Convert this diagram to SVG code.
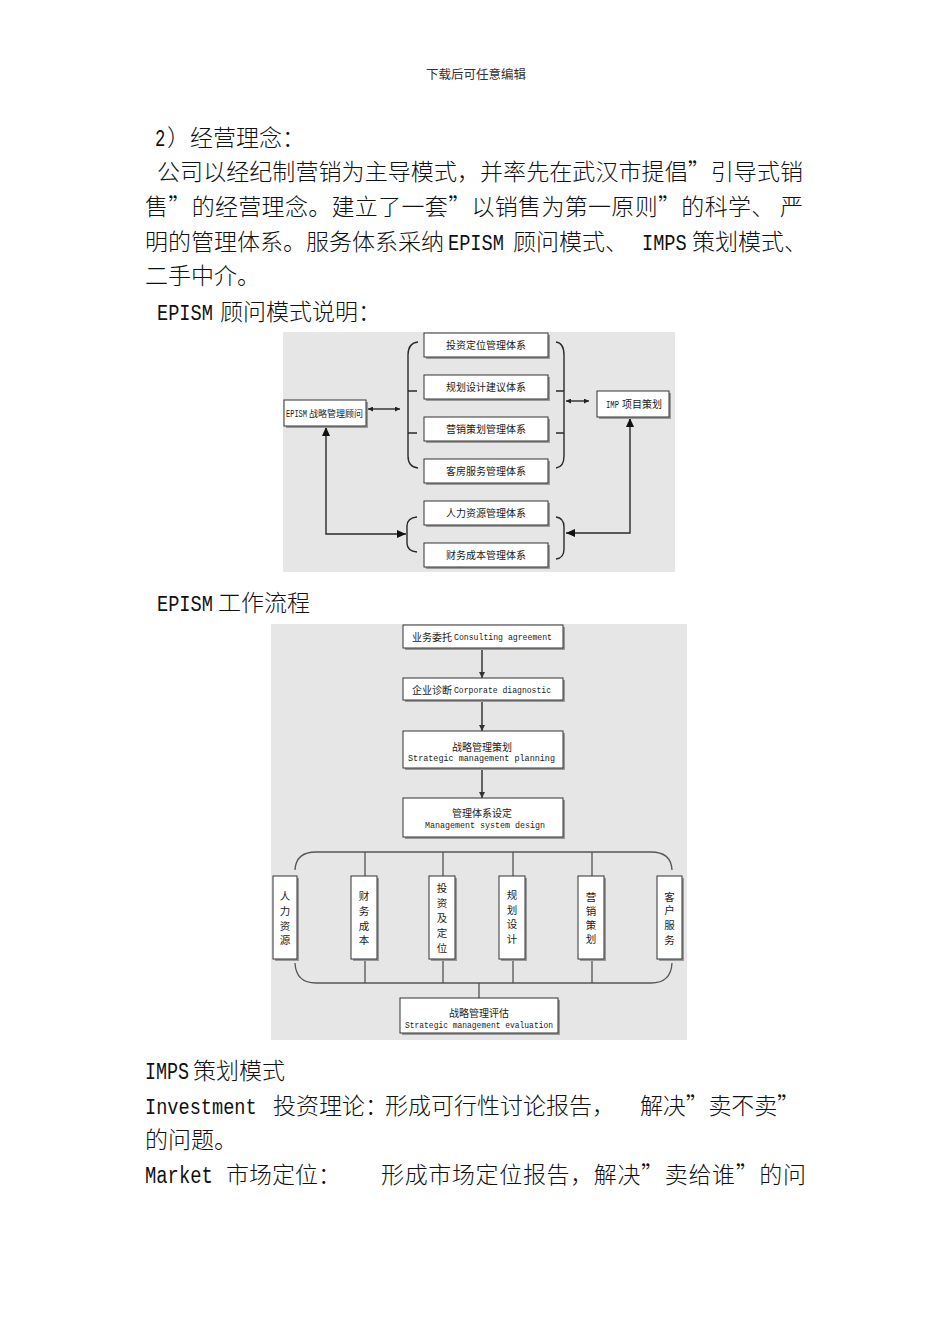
<svg xmlns="http://www.w3.org/2000/svg" width="950" height="1344" viewBox="0 0 950 1344">
<style>
.cjk{font-family:"Noto Sans CJK SC",sans-serif}
.mono{font-family:"Liberation Mono","Noto Sans CJK SC",monospace}
.body{font-size:23px;fill:#111;font-weight:300}
.bx{fill:#fff;stroke:#333;stroke-width:1}
.sh{fill:#9a9a9a}
.t10{font-size:10px;fill:#1a1a1a}
.t11{font-size:10.5px;fill:#1a1a1a}
.m8{font-size:8.5px;fill:#1a1a1a}
.ln{fill:none;stroke:#2a2a2a;stroke-width:1.4}
.ln2{fill:none;stroke:#555;stroke-width:1.3}
.bg{fill:#e6e6e6}
</style>
<defs>
<marker id="as" viewBox="0 0 6 6" refX="6" refY="3" markerWidth="5" markerHeight="5" orient="auto-start-reverse" markerUnits="userSpaceOnUse"><path d="M0,0 L6,3 L0,6 z" fill="#222"/></marker>
<marker id="ab" viewBox="0 0 9 8" refX="9" refY="4" markerWidth="9" markerHeight="8" orient="auto-start-reverse" markerUnits="userSpaceOnUse"><path d="M0,0 L9,4 L0,8 z" fill="#111"/></marker>
<marker id="ad" viewBox="0 0 6 6" refX="6" refY="3" markerWidth="6" markerHeight="6" orient="auto" markerUnits="userSpaceOnUse"><path d="M0,0 L6,3 L0,6 z" fill="#333"/></marker>
</defs>
<rect width="950" height="1344" fill="#fff"/>

<!-- header -->
<text class="cjk" x="476" y="79" font-size="12.5" fill="#333" text-anchor="middle">下载后可任意编辑</text>

<!-- body text -->
<g id="text-top">
<text class="mono body" transform="translate(155,146) scale(0.75,1)">2</text>
<text class="cjk body" x="167" y="146">）经营理念：</text>
<text class="cjk body" x="157" y="180" textLength="646" lengthAdjust="spacing">公司以经纪制营销为主导模式，并率先在武汉市提倡”引导式销</text>
<text class="cjk body" x="145" y="215" textLength="658" lengthAdjust="spacing">售”的经营理念。建立了一套”以销售为第一原则”的科学、 严</text>
<text class="cjk body" x="145" y="250">明的管理体系。服务体系采纳</text>
<text class="mono body" transform="translate(448,250) scale(0.81,1)">EPISM</text>
<text class="cjk body" x="513" y="250">顾问模式、</text>
<text class="mono body" transform="translate(642,250) scale(0.81,1)">IMPS</text>
<text class="cjk body" x="692" y="250">策划模式、</text>
<text class="cjk body" x="145" y="284">二手中介。</text>
<text class="mono body" transform="translate(157,320) scale(0.81,1)">EPISM</text>
<text class="cjk body" x="220" y="320">顾问模式说明：</text>
</g>

<!-- diagram 1 -->
<rect class="bg" x="283" y="332" width="392" height="240"/>
<g id="d1-connectors">
<path class="ln" d="M418,342 Q408,343 408,355 L408,456 Q408,467 418,468 M408,391 H417 M408,433 H417"/>
<path class="ln" d="M556,342 Q564,343 564,355 L564,456 Q564,467 556,468 M556,391 H564 M556,433 H564"/>
<path class="ln" d="M417,517 Q407,518 407,526 L407,543 Q407,551 417,552"/>
<path class="ln" d="M556,517 Q564,518 564,527 L564,549 Q564,558 556,559"/>
<line class="ln" x1="368" y1="409" x2="400" y2="409" marker-start="url(#as)" marker-end="url(#as)"/>
<line class="ln" x1="566" y1="401" x2="589" y2="401" marker-start="url(#as)" marker-end="url(#as)"/>
<polyline class="ln" points="326,427 326,534 406,534" marker-start="url(#ab)" marker-end="url(#ab)"/>
<polyline class="ln" points="630,418 630,533 566,533" marker-start="url(#ab)" marker-end="url(#ab)"/>
</g>
<g id="n-epism">
<rect class="sh" x="286" y="402" width="82" height="26"/>
<rect class="bx" x="284" y="400" width="82" height="26"/>
<text class="mono" transform="translate(286,417) scale(0.7,1)" font-size="10" fill="#1a1a1a">EPISM</text>
<text class="cjk" x="309" y="417" font-size="9" fill="#1a1a1a">战略管理顾问</text>
</g>
<g id="n-imp">
<rect class="sh" x="599" y="393" width="72" height="26"/>
<rect class="bx" x="597" y="391" width="72" height="26"/>
<text class="mono" transform="translate(606,408) scale(0.72,1)" font-size="10" fill="#1a1a1a">IMP</text>
<text class="cjk t10" x="622" y="408">项目策划</text>
</g>
<g id="n-b1"><rect class="sh" x="426" y="335" width="124" height="24"/><rect class="bx" x="424" y="333" width="124" height="24"/><text class="cjk t10" x="486" y="349" text-anchor="middle">投资定位管理体系</text></g>
<g id="n-b2"><rect class="sh" x="426" y="377" width="124" height="24"/><rect class="bx" x="424" y="375" width="124" height="24"/><text class="cjk t10" x="486" y="391" text-anchor="middle">规划设计建议体系</text></g>
<g id="n-b3"><rect class="sh" x="426" y="419" width="124" height="24"/><rect class="bx" x="424" y="417" width="124" height="24"/><text class="cjk t10" x="486" y="433" text-anchor="middle">营销策划管理体系</text></g>
<g id="n-b4"><rect class="sh" x="426" y="461" width="124" height="24"/><rect class="bx" x="424" y="459" width="124" height="24"/><text class="cjk t10" x="486" y="475" text-anchor="middle">客房服务管理体系</text></g>
<g id="n-b5"><rect class="sh" x="426" y="503" width="124" height="24"/><rect class="bx" x="424" y="501" width="124" height="24"/><text class="cjk t10" x="486" y="517" text-anchor="middle">人力资源管理体系</text></g>
<g id="n-b6"><rect class="sh" x="426" y="545" width="124" height="24"/><rect class="bx" x="424" y="543" width="124" height="24"/><text class="cjk t10" x="486" y="559" text-anchor="middle">财务成本管理体系</text></g>

<g id="text-mid">
<text class="mono body" transform="translate(157,611) scale(0.81,1)">EPISM</text>
<text class="cjk body" x="218" y="611">工作流程</text>
</g>

<!-- diagram 2 -->
<rect class="bg" x="271" y="624" width="416" height="416"/>
<g id="d2-connectors">
<line class="ln" x1="482" y1="648" x2="482" y2="678" marker-end="url(#ad)"/>
<line class="ln" x1="482" y1="700" x2="482" y2="731" marker-end="url(#ad)"/>
<line class="ln" x1="482" y1="768" x2="482" y2="798" marker-end="url(#ad)"/>
<path class="ln2" d="M295,870 Q296,852 316,852 L651,852 Q671,852 672,870"/>
<path class="ln2" d="M295,963 Q296,983 316,983 L651,983 Q671,983 672,963"/>
<path class="ln2" d="M365,852 V876 M443,852 V876 M513,852 V876 M592,852 V876 M365,955 V983 M443,955 V983 M513,955 V983 M592,955 V983 M479,983 V998"/>
</g>
<g id="n-c1"><rect class="sh" x="405" y="627" width="160" height="23"/><rect class="bx" x="403" y="625" width="160" height="23"/>
<text class="cjk t10" x="412" y="641">业务委托</text><text class="mono m8" x="454" y="640" textLength="98" lengthAdjust="spacingAndGlyphs">Consulting agreement</text></g>
<g id="n-c2"><rect class="sh" x="405" y="680" width="160" height="22"/><rect class="bx" x="403" y="678" width="160" height="22"/>
<text class="cjk t10" x="412" y="694">企业诊断</text><text class="mono m8" x="454" y="693" textLength="97" lengthAdjust="spacingAndGlyphs">Corporate diagnostic</text></g>
<g id="n-c3"><rect class="sh" x="405" y="733" width="160" height="37"/><rect class="bx" x="403" y="731" width="160" height="37"/>
<text class="cjk t10" x="482" y="751" text-anchor="middle">战略管理策划</text><text class="mono m8" x="408" y="761" textLength="147" lengthAdjust="spacingAndGlyphs">Strategic management planning</text></g>
<g id="n-c4"><rect class="sh" x="405" y="800" width="160" height="39"/><rect class="bx" x="403" y="798" width="160" height="39"/>
<text class="cjk t10" x="482" y="817" text-anchor="middle">管理体系设定</text><text class="mono m8" x="425" y="828" textLength="120" lengthAdjust="spacingAndGlyphs">Management system design</text></g>

<g id="n-v1"><rect class="sh" x="275" y="878" width="24" height="83"/><rect class="bx" x="273" y="876" width="24" height="83"/>
<text class="cjk t11" text-anchor="middle"><tspan x="285" y="900">人</tspan><tspan x="285" y="915">力</tspan><tspan x="285" y="930">资</tspan><tspan x="285" y="944">源</tspan></text></g>
<g id="n-v2"><rect class="sh" x="353" y="878" width="26" height="83"/><rect class="bx" x="351" y="876" width="26" height="83"/>
<text class="cjk t11" text-anchor="middle"><tspan x="364" y="900">财</tspan><tspan x="364" y="915">务</tspan><tspan x="364" y="930">成</tspan><tspan x="364" y="944">本</tspan></text></g>
<g id="n-v3"><rect class="sh" x="431" y="878" width="26" height="83"/><rect class="bx" x="429" y="876" width="26" height="83"/>
<text class="cjk t11" text-anchor="middle"><tspan x="442" y="892">投</tspan><tspan x="442" y="907">资</tspan><tspan x="442" y="922">及</tspan><tspan x="442" y="937">定</tspan><tspan x="442" y="952">位</tspan></text></g>
<g id="n-v4"><rect class="sh" x="501" y="878" width="26" height="83"/><rect class="bx" x="499" y="876" width="26" height="83"/>
<text class="cjk t11" text-anchor="middle"><tspan x="512" y="899">规</tspan><tspan x="512" y="914">划</tspan><tspan x="512" y="928">设</tspan><tspan x="512" y="943">计</tspan></text></g>
<g id="n-v5"><rect class="sh" x="580" y="878" width="26" height="83"/><rect class="bx" x="578" y="876" width="26" height="83"/>
<text class="cjk t11" text-anchor="middle"><tspan x="591" y="901">营</tspan><tspan x="591" y="915">销</tspan><tspan x="591" y="929">策</tspan><tspan x="591" y="943">划</tspan></text></g>
<g id="n-v6"><rect class="sh" x="659" y="878" width="25" height="83"/><rect class="bx" x="657" y="876" width="25" height="83"/>
<text class="cjk t11" text-anchor="middle"><tspan x="669.5" y="901">客</tspan><tspan x="669.5" y="914">户</tspan><tspan x="669.5" y="929">服</tspan><tspan x="669.5" y="944">务</tspan></text></g>

<g id="n-eval"><rect class="sh" x="402" y="1000" width="158" height="35"/><rect class="bx" x="400" y="998" width="158" height="35"/>
<text class="cjk t10" x="479" y="1017" text-anchor="middle">战略管理评估</text><text class="mono m8" x="405" y="1028" textLength="148" lengthAdjust="spacingAndGlyphs">Strategic management evaluation</text></g>

<!-- bottom text -->
<g id="text-bottom">
<text class="mono body" transform="translate(145,1079) scale(0.8,1)">IMPS</text>
<text class="cjk body" x="193" y="1079">策划模式</text>
<text class="mono body" transform="translate(145,1114) scale(0.81,1)">Investment</text>
<text class="cjk body" x="273" y="1114">投资理论：</text>
<text class="cjk body" x="385" y="1114">形成可行性讨论报告，</text>
<text class="cjk body" x="640" y="1114" textLength="160" lengthAdjust="spacing">解决”卖不卖”</text>
<text class="cjk body" x="145" y="1148">的问题。</text>
<text class="mono body" transform="translate(145,1183) scale(0.82,1)">Market</text>
<text class="cjk body" x="226" y="1183">市场定位：</text>
<text class="cjk body" x="381" y="1183" textLength="425" lengthAdjust="spacing">形成市场定位报告，解决”卖给谁”的问</text>
</g>
</svg>
